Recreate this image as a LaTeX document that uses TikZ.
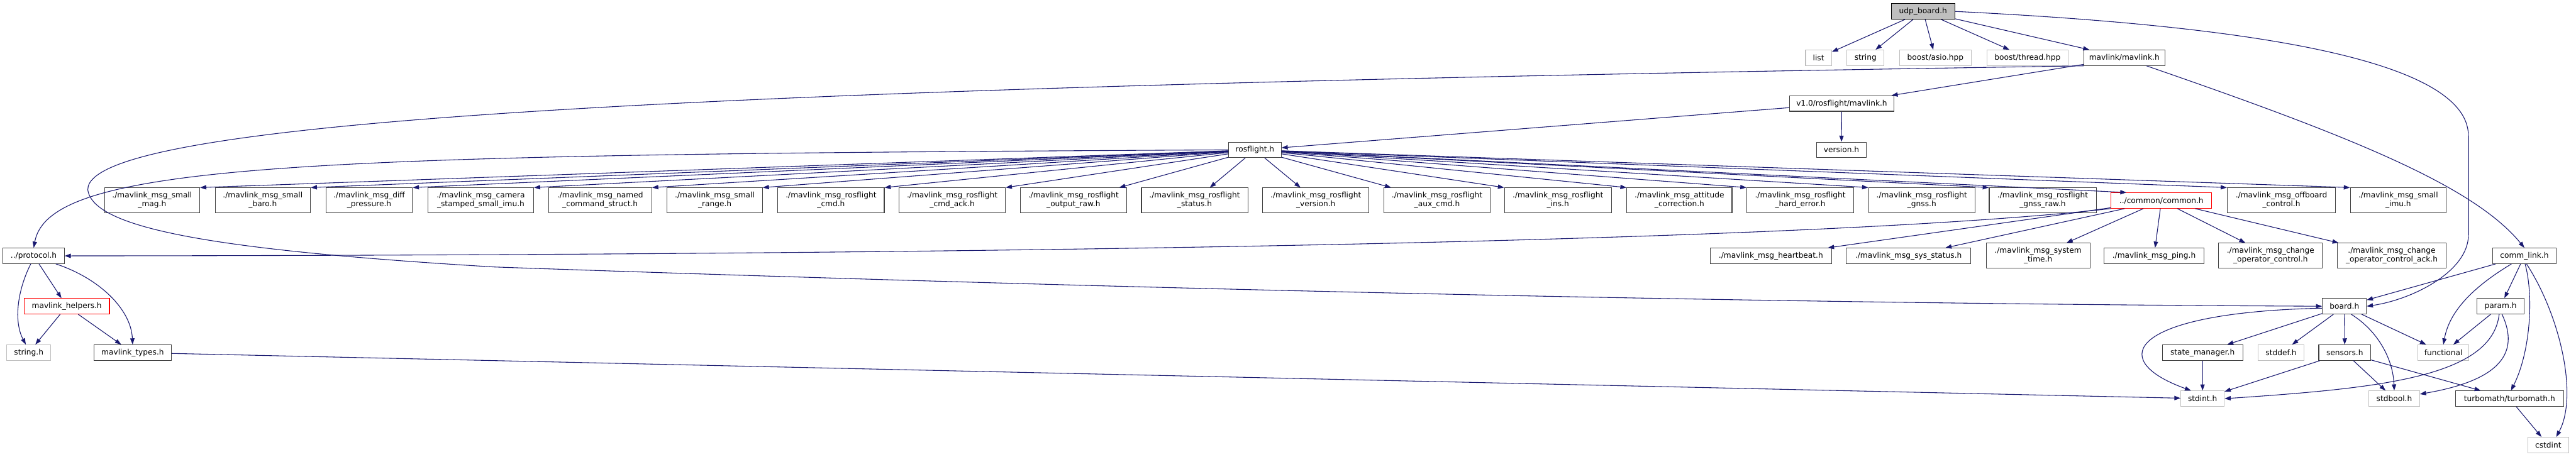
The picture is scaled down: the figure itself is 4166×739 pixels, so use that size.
\documentclass[tikz,border=0pt]{standalone}
\usepackage{fontspec}
\setmainfont{DejaVu Sans}
\usetikzlibrary{arrows.meta}

\definecolor{edgeblue}{HTML}{191970}
\definecolor{sysgrey}{HTML}{BFBFBF}
\definecolor{boxline}{HTML}{404040}

\tikzset{
  hdr/.style={draw=boxline, line width=1.1pt, fill=white, minimum height=25pt,
    inner sep=0pt, align=center, font=\fontsize{12.4}{14}\selectfont},
  hdrtwo/.style={hdr, minimum height=40pt},
  syshdr/.style={hdr, draw=sysgrey},
  trunc/.style={hdr, draw=red},
  roothdr/.style={hdr, draw=black, fill=sysgrey},
  inc/.style={draw=edgeblue, line width=1.1pt, -{Triangle[length=10pt,width=7pt]}}
}

\begin{document}
\begin{tikzpicture}[x=1pt,y=-1pt]
    \useasboundingbox (0,0) rectangle (4166,739);

    % The file and what it includes directly
    \node[roothdr, minimum width=103pt] (udpboard)  at (3110,18.5)   {udp\_board.h};
    \node[syshdr,  minimum width=42pt]  (list)      at (2941,93.5)   {list};
    \node[syshdr,  minimum width=60pt]  (stdstring) at (3017,93.5)   {string};
    \node[syshdr,  minimum width=116pt] (asio)      at (3130,93.5)   {boost/asio.hpp};
    \node[syshdr,  minimum width=132pt] (thread)    at (3279,93.5)   {boost/thread.hpp};
    \node[hdr,     minimum width=131pt] (mavlink)   at (3435.5,93.5) {mavlink/mavlink.h};

    % Generated mavlink headers
    \node[hdr, minimum width=169pt] (rfmavlink) at (2978.5,167.5) {v1.0/rosflight/mavlink.h};
    \node[hdr, minimum width=85pt]  (rosflight) at (2029.5,242.5) {rosflight.h};
    \node[hdr, minimum width=80pt]  (version)   at (2978,242.5)   {version.h};

    % Message headers (row under rosflight.h)
    \node[hdrtwo, minimum width=154pt] (smag)     at (246,324)    {./mavlink\_msg\_small\\\_mag.h};
    \node[hdrtwo, minimum width=154pt] (sbaro)    at (425,324)    {./mavlink\_msg\_small\\\_baro.h};
    \node[hdrtwo, minimum width=140pt] (diffp)    at (597,324)    {./mavlink\_msg\_diff\\\_pressure.h};
    \node[hdrtwo, minimum width=171pt] (camimu)   at (777.5,324)  {./mavlink\_msg\_camera\\\_stamped\_small\_imu.h};
    \node[hdrtwo, minimum width=167pt] (namedcmd) at (970.5,324)  {./mavlink\_msg\_named\\\_command\_struct.h};
    \node[hdrtwo, minimum width=154pt] (srange)   at (1156,324)   {./mavlink\_msg\_small\\\_range.h};
    \node[hdrtwo, minimum width=172pt] (rfcmd)    at (1344,324)   {./mavlink\_msg\_rosflight\\\_cmd.h};
    \node[hdrtwo, minimum width=172pt] (cmdack)   at (1540,324)   {./mavlink\_msg\_rosflight\\\_cmd\_ack.h};
    \node[hdrtwo, minimum width=172pt] (outraw)   at (1736,324)   {./mavlink\_msg\_rosflight\\\_output\_raw.h};
    \node[hdrtwo, minimum width=172pt] (rfstatus) at (1932,324)   {./mavlink\_msg\_rosflight\\\_status.h};
    \node[hdrtwo, minimum width=172pt] (rfvers)   at (2128,324)   {./mavlink\_msg\_rosflight\\\_version.h};
    \node[hdrtwo, minimum width=172pt] (auxcmd)   at (2324,324)   {./mavlink\_msg\_rosflight\\\_aux\_cmd.h};
    \node[hdrtwo, minimum width=173pt] (ins)      at (2519.5,324) {./mavlink\_msg\_rosflight\\\_ins.h};
    \node[hdrtwo, minimum width=170pt] (attcorr)  at (2716,324)   {./mavlink\_msg\_attitude\\\_correction.h};
    \node[hdrtwo, minimum width=173pt] (harderr)  at (2911.5,324) {./mavlink\_msg\_rosflight\\\_hard\_error.h};
    \node[hdrtwo, minimum width=172pt] (gnss)     at (3108,324)   {./mavlink\_msg\_rosflight\\\_gnss.h};
    \node[hdrtwo, minimum width=173pt] (gnssraw)  at (3303.5,324) {./mavlink\_msg\_rosflight\\\_gnss\_raw.h};
    \node[trunc,  minimum width=163pt] (common)   at (3495.5,324.5) {../common/common.h};
    \node[hdrtwo, minimum width=175pt] (offboard) at (3689.5,324) {./mavlink\_msg\_offboard\\\_control.h};
    \node[hdrtwo, minimum width=155pt] (simu)     at (3878.5,324) {./mavlink\_msg\_small\\\_imu.h};

    % Common message headers and the protocol side
    \node[hdr,    minimum width=99pt]  (protocol)  at (54.5,414)  {../protocol.h};
    \node[hdr,    minimum width=196pt] (heartbeat) at (2864,414)  {./mavlink\_msg\_heartbeat.h};
    \node[hdr,    minimum width=201pt] (sysstatus) at (3086.5,414) {./mavlink\_msg\_sys\_status.h};
    \node[hdrtwo, minimum width=168pt] (systime)   at (3296,413.5) {./mavlink\_msg\_system\\\_time.h};
    \node[hdr,    minimum width=161pt] (ping)      at (3483.5,414) {./mavlink\_msg\_ping.h};
    \node[hdrtwo, minimum width=168pt] (chopctl)   at (3672,413.5) {./mavlink\_msg\_change\\\_operator\_control.h};
    \node[hdrtwo, minimum width=176pt] (chopack)   at (3868,413.5) {./mavlink\_msg\_change\\\_operator\_control\_ack.h};
    \node[hdr,    minimum width=103pt] (commlink)  at (4082.5,414) {comm\_link.h};

    \node[trunc, minimum width=138pt] (helpers) at (108,495.5)    {mavlink\_helpers.h};
    \node[hdr,   minimum width=71pt]  (board)   at (3791.5,495.5) {board.h};
    \node[hdr,   minimum width=76pt]  (param)   at (4044,495.5)   {param.h};

    \node[syshdr, minimum width=71pt]  (stringh)    at (46.5,570.5)  {string.h};
    \node[hdr,    minimum width=125pt] (mtypes)     at (214.5,570.5) {mavlink\_types.h};
    \node[hdr,    minimum width=130pt] (statemgr)   at (3562,570.5)  {state\_manager.h};
    \node[syshdr, minimum width=74pt]  (stddef)     at (3689,570.5)  {stddef.h};
    \node[hdr,    minimum width=84pt]  (sensors)    at (3792,570.5)  {sensors.h};
    \node[syshdr, minimum width=83pt]  (functional) at (3951.5,570.5) {functional};

    \node[syshdr, minimum width=70pt]  (stdint)    at (3562,645)   {stdint.h};
    \node[syshdr, minimum width=82pt]  (stdbool)   at (3872,645)   {stdbool.h};
    \node[hdr,    minimum width=175pt] (turbomath) at (4058.5,645) {turbomath/turbomath.h};
    \node[syshdr, minimum width=66pt]  (cstdint)   at (4121,720)   {cstdint};

    % udp_board.h
    \draw[inc] (udpboard) -- (list);
    \draw[inc] (udpboard) -- (stdstring);
    \draw[inc] (udpboard) -- (asio);
    \draw[inc] (udpboard) -- (thread);
    \draw[inc] (udpboard) -- (mavlink);
    \draw[inc] (udpboard.east) .. controls (3600,40) and (3992,90) .. (3992,220)
        -- (3992,380) .. controls (3992,440) and (3900,485) .. (board.east);

    % mavlink/mavlink.h
    \draw[inc] (mavlink) -- (rfmavlink);
    \draw[inc] (mavlink.-20) .. controls (3800,220) and (4000,300) .. (commlink.north);
    \draw[inc] (mavlink.south west) .. controls (1200,140) and (140,190) .. (142,307)
        .. controls (150,370) and (350,405) .. (800,432)
        .. controls (2000,474) and (3000,492) .. (board.west);

    % v1.0/rosflight/mavlink.h
    \draw[inc] (rfmavlink) -- (rosflight);
    \draw[inc] (rfmavlink) -- (version);

    % rosflight.h
    \draw[inc] (rosflight.west) .. controls (500,250) and (80,262) .. (protocol.north);
    \draw[inc] (rosflight) -- (smag.north east);
    \draw[inc] (rosflight) -- (sbaro.north east);
    \draw[inc] (rosflight) -- (diffp.north east);
    \draw[inc] (rosflight) -- (camimu.north east);
    \draw[inc] (rosflight) -- (namedcmd.north east);
    \draw[inc] (rosflight) -- (srange.north east);
    \draw[inc] (rosflight) -- (rfcmd.north east);
    \draw[inc] (rosflight) -- (cmdack.north east);
    \draw[inc] (rosflight) -- (outraw);
    \draw[inc] (rosflight) -- (rfstatus);
    \draw[inc] (rosflight) -- (rfvers);
    \draw[inc] (rosflight) -- (auxcmd);
    \draw[inc] (rosflight) -- (ins.north west);
    \draw[inc] (rosflight) -- (attcorr.north west);
    \draw[inc] (rosflight) -- (harderr.north west);
    \draw[inc] (rosflight) -- (gnss.north west);
    \draw[inc] (rosflight) -- (gnssraw.north west);
    \draw[inc] (rosflight) -- (common.167);
    \draw[inc] (rosflight) -- (offboard.north west);
    \draw[inc] (rosflight) -- (simu.north west);

    % ../common/common.h
    \draw[inc] (common.south west) .. controls (2900,395) and (1500,413) .. (protocol.east);
    \draw[inc] (common) -- (heartbeat);
    \draw[inc] (common) -- (sysstatus);
    \draw[inc] (common) -- (systime);
    \draw[inc] (common) -- (ping);
    \draw[inc] (common) -- (chopctl);
    \draw[inc] (common) -- (chopack);

    % ../protocol.h and mavlink_helpers.h
    \draw[inc] (protocol) -- (helpers);
    \draw[inc] (protocol.250) .. controls (28,470) and (22,520) .. (stringh.110);
    \draw[inc] (protocol.-20) .. controls (160,450) and (212,500) .. (mtypes.north);
    \draw[inc] (helpers) -- (stringh);
    \draw[inc] (helpers) -- (mtypes);
    \draw[inc] (mtypes) -- (stdint);

    % comm_link.h
    \draw[inc] (commlink) -- (board);
    \draw[inc] (commlink) -- (param);
    \draw[inc] (commlink.212) .. controls (3990,470) and (3960,510) .. (functional.north);
    \draw[inc] (commlink.-85) .. controls (4098,480) and (4092,570) .. (turbomath.80);
    \draw[inc] (commlink.-75) .. controls (4140,510) and (4170,640) .. (cstdint.45);

    % board.h
    \draw[inc] (board.185) .. controls (3450,505) and (3400,580) .. (stdint.145);
    \draw[inc] (board) -- (statemgr);
    \draw[inc] (board) -- (stddef);
    \draw[inc] (board) -- (sensors);
    \draw[inc] (board.-50) .. controls (3845,535) and (3870,580) .. (stdbool.north);
    \draw[inc] (board) -- (functional);

    % param.h
    \draw[inc] (param) -- (functional);
    \draw[inc] (param.-100) .. controls (4030,610) and (3850,628) .. (stdint.east);
    \draw[inc] (param.-80) .. controls (4075,570) and (4045,615) .. (stdbool.10);

    % leaves
    \draw[inc] (statemgr) -- (stdint);
    \draw[inc] (sensors) -- (stdint);
    \draw[inc] (sensors) -- (stdbool);
    \draw[inc] (sensors) -- (turbomath);
    \draw[inc] (turbomath) -- (cstdint);
\end{tikzpicture}
\end{document}
